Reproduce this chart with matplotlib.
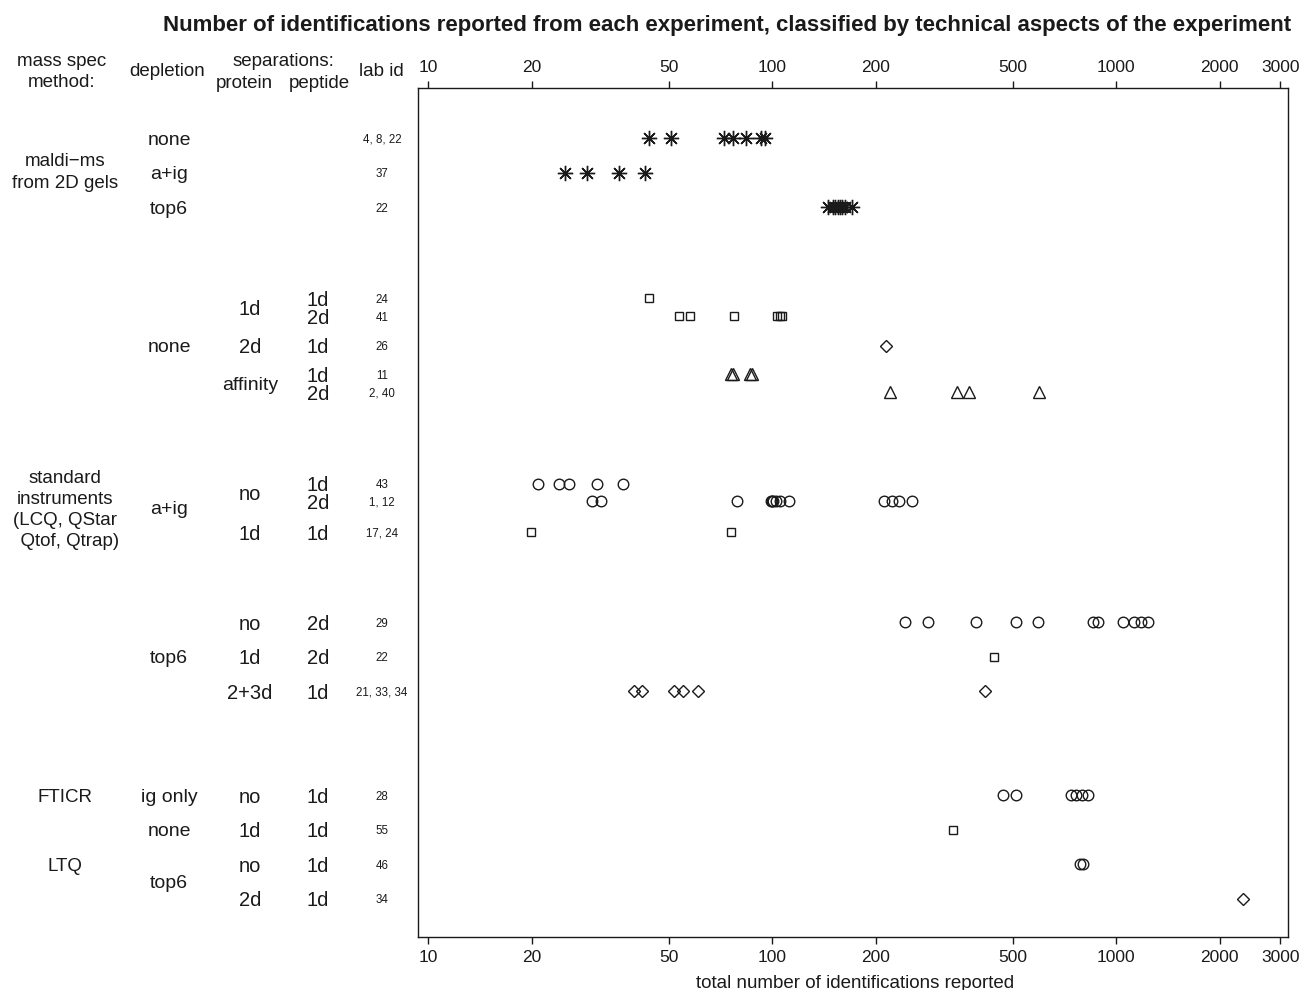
import matplotlib
matplotlib.use("Agg")
import matplotlib.pyplot as plt
import matplotlib.transforms as mtransforms

plt.rcParams["font.family"] = ["Liberation Sans", "DejaVu Sans"]

# ---- data: identifications per experiment, one list per row ----
maldi_none = [43.9, 50.9, 72.5, 77.0, 84.0, 92.9, 95.4]
maldi_aig = [25.0, 29.0, 35.9, 42.7]
maldi_top6 = [145.5, 150, 152.5, 155, 157.7, 160, 163, 170.9]

none_1d_1d = [43.9]
none_1d_2d = [53.7, 57.8, 77.6, 103.4, 105.5, 107]
none_2d_1d = [214.5]
none_aff_1d = [76, 76.8, 86.3, 87.2]
none_aff_2d = [220, 345, 374, 597]

aig_no_1d = [20.9, 24.0, 25.7, 31.0, 36.9]
aig_no_2d = [30.0, 31.8, 79.1, 99.3, 100.0, 100.7, 102.7, 105.5, 112,
             211.6, 223, 234, 255]
aig_1d_1d = [19.9, 76.0]

top6_no_2d = [243.6, 284, 391.7, 512, 593, 857, 886, 1048, 1127, 1182, 1239]
top6_1d_2d = [441.8]
top6_23d_1d = [39.7, 41.9, 51.9, 55.1, 60.9, 416]

fticr_ig_no_1d = [469.6, 512, 740, 765, 797, 829]
ltq_none_1d_1d = [336]
ltq_top6_no_1d = [785, 802]
ltq_top6_2d_1d = [2340]

row_values = [maldi_none, maldi_aig, maldi_top6,
              none_1d_1d, none_1d_2d, none_2d_1d, none_aff_1d, none_aff_2d,
              aig_no_1d, aig_no_2d, aig_1d_1d,
              top6_no_2d, top6_1d_2d, top6_23d_1d,
              fticr_ig_no_1d, ltq_none_1d_1d, ltq_top6_no_1d, ltq_top6_2d_1d]
row_markers = ["ast", "ast", "ast",
               "s", "s", "D", "^", "^",
               "o", "o", "s",
               "o", "s", "D",
               "o", "s", "o", "D"]
row_lab_ids = ["4, 8, 22", "37", "22",
               "24", "41", "26", "11", "2, 40",
               "43", "1, 12", "17, 24",
               "29", "22", "21, 33, 34",
               "28", "55", "46", "34"]
row_peptide = ["", "", "",
               "1d", "2d", "1d", "1d", "2d",
               "1d", "2d", "1d",
               "2d", "2d", "1d",
               "1d", "1d", "1d", "1d"]

# vertical layout in row units (1d/2d pairs share half a slot)
row_pos = [0, 1, 2,
           4.63, 5.15, 6.0, 6.83, 7.35,
           10.0, 10.5, 11.4,
           14.0, 15.0, 16.0,
           19.0, 20.0, 21.0, 22.0]

x_ticks = [10, 20, 50, 100, 200, 500, 1000, 2000, 3000]

W, H = 1303, 990
fig = plt.figure(figsize=(W / 100, H / 100), dpi=100)
ax = fig.add_axes([418 / W, 1 - 937 / H, (1288 - 418) / W, (937 - 88) / H])

ink = "#1a1a1a"
marker_style = {
    "s": dict(marker="s", markersize=6.2),
    "o": dict(marker="o", markersize=7.6),
    "D": dict(marker="D", markersize=6.4),
    "^": dict(marker="^", markersize=9),
    "ast": dict(marker=(8, 2, 0), markersize=11),
}

for vals, mk, y in zip(row_values, row_markers, row_pos):
    st = marker_style[mk]
    ax.plot(vals, [y] * len(vals), linestyle="none", markerfacecolor="none",
            markeredgecolor=ink, color=ink, markeredgewidth=1.0, **st)

ax.set_xscale("log")
ax.set_xlim(9.35, 3160)
ax.set_ylim(23.1, -1.45)
ax.set_yticks([])
ax.set_xticks(x_ticks)
ax.set_xticklabels([str(t) for t in x_ticks])
ax.minorticks_off()
ax.tick_params(axis="x", which="both", top=True, labeltop=True, bottom=True,
               labelbottom=True, direction="out", length=5, width=1,
               labelsize=12.5, pad=4, color=ink, labelcolor=ink)
for sp in ax.spines.values():
    sp.set_linewidth(1.0)
    sp.set_color(ink)

# ---- left-side annotation columns ----
tr = mtransforms.blended_transform_factory(fig.transFigure, ax.transData)
fs = 13.5


def put(px, y, s, size=fs, va="center_baseline", **kw):
    ax.text(px / W, y, s, transform=tr, ha="center", va=va,
            fontsize=size, color=ink, clip_on=False, **kw)


for y, lid, pep in zip(row_pos, row_lab_ids, row_peptide):
    put(382, y, lid, size=8.3)
    if pep:
        put(318, y, pep, size=14.5)

# column headers (figure coordinates)
def head(px, py, s):
    fig.text(px / W, 1 - py / H, s, ha="center", va="center",
             fontsize=fs, color=ink, linespacing=1.25)

head(62, 72, "mass spec\nmethod:")
head(167, 72, "depletion")
head(283, 61, "separations:")
head(244, 83, "protein")
head(319, 83, "peptide")
head(381, 72, "lab id")

# mass spec method
put(65, 1.0, "maldi\u2212ms\nfrom 2D gels", va="center", linespacing=1.35)
put(65, 10.75, "standard\ninstruments\n(LCQ, QStar\n  Qtof, Qtrap)",
    va="center", linespacing=1.3)
put(65, 19.0, "FTICR")
put(65, 21.0, "LTQ")

# depletion
for y, s in [(0, "none"), (1, "a+ig"), (2, "top6"), (6.0, "none"),
             (10.68, "a+ig"), (15.0, "top6"), (19.0, "ig only"),
             (20.0, "none"), (21.5, "top6")]:
    put(169, y, s, size=14)

# protein separation
for y, s in [(4.89, "1d"), (6.0, "2d"), (7.1, "affinity"), (10.25, "no"),
             (11.4, "1d"), (14.0, "no"), (15.0, "1d"), (16.0, "2+3d"),
             (19.0, "no"), (20.0, "1d"), (21.0, "no"), (22.0, "2d")]:
    put(250, y, s, size=14.5 if s != "affinity" else 14)

fig.text(727 / W, 1 - 25 / H,
         "Number of identifications reported from each experiment, "
         "classified by technical aspects of the experiment",
         ha="center", va="center", fontsize=16, fontweight="bold", color=ink)
fig.text(855 / W, 1 - 984 / H, "total number of identifications reported",
         ha="center", va="center", fontsize=fs, color=ink)

fig.savefig("out.png", dpi=100)
